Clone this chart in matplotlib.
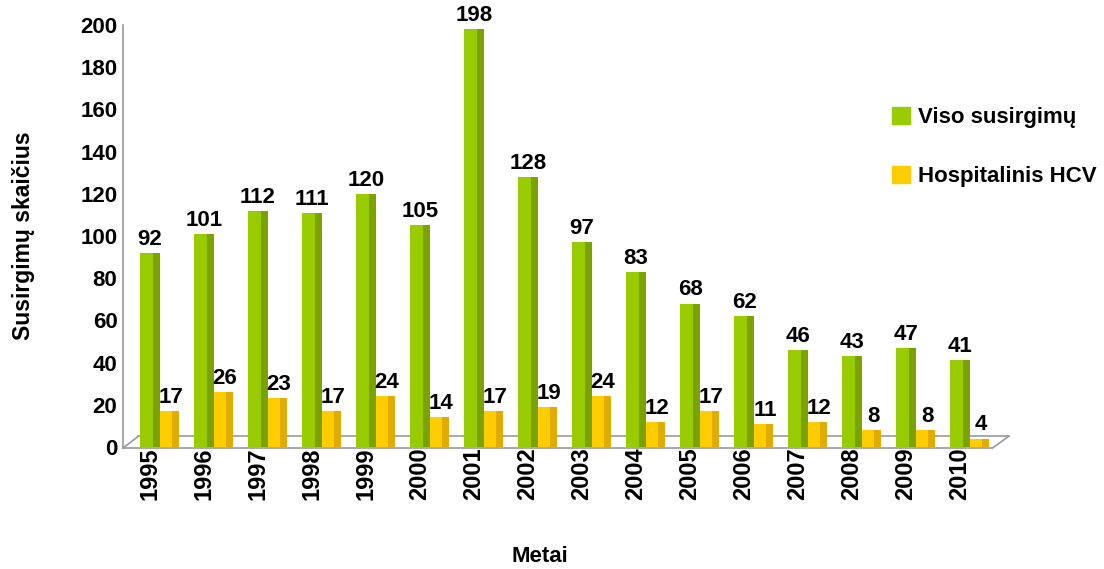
import matplotlib
matplotlib.use("Agg")
import matplotlib.pyplot as plt
import numpy as np
from matplotlib.patches import Patch

years = ["1995", "1996", "1997", "1998", "1999", "2000", "2001", "2002",
         "2003", "2004", "2005", "2006", "2007", "2008", "2009", "2010"]
total = [92, 101, 112, 111, 120, 105, 198, 128, 97, 83, 68, 62, 46, 43, 47, 41]
hosp = [17, 26, 23, 17, 24, 14, 17, 19, 24, 12, 17, 11, 12, 8, 8, 4]
yticks = [0, 20, 40, 60, 80, 100, 120, 140, 160, 180, 200]
series_names = ["Viso susirgimų", "Hospitalinis HCV"]

GREEN = "#99CC00"
GREEN_SIDE = "#7AA300"
YELLOW = "#FFCC00"
YELLOW_SIDE = "#E0AC00"

plt.rcParams['font.family'] = ['Liberation Sans', 'DejaVu Sans']

W, H = 1104, 569
fig = plt.figure(figsize=(W / 100, H / 100), dpi=100)
left_px, right_px, top_px, bot_px = 123, 1008.6, 25, 447
ax = fig.add_axes([left_px / W, 1 - bot_px / H, (right_px - left_px) / W, (bot_px - top_px) / H])

x = np.arange(len(years))
bw = 0.36
gx = x
yx = x + 0.36

# green bars (front + darker side strip)
ax.bar(gx, total, width=bw, color=GREEN, align="center", zorder=3, linewidth=0)
ax.bar(gx + bw * 0.32, total, width=bw * 0.36, color=GREEN_SIDE, align="center", zorder=3, linewidth=0)
# yellow bars
ax.bar(yx, hosp, width=bw, color=YELLOW, align="center", zorder=4, linewidth=0)
ax.bar(yx + bw * 0.32, hosp, width=bw * 0.36, color=YELLOW_SIDE, align="center", zorder=4, linewidth=0)

ax.set_xlim(-0.5, 15.9)
ax.set_ylim(0, 200)

for s in ["top", "right", "left", "bottom"]:
    ax.spines[s].set_visible(False)

# floor (3D-like parallelogram)
fc = "#999999"
ax.plot([-0.5, 15.6], [-0.5, -0.5], color=fc, lw=1.2, zorder=2, clip_on=False)
ax.plot([-0.22, 15.9], [5.0, 5.0], color=fc, lw=1.2, zorder=1, clip_on=False)
ax.plot([-0.5, -0.22], [-0.5, 5.0], color=fc, lw=1.2, zorder=1, clip_on=False)
ax.plot([15.6, 15.9], [-0.5, 5.0], color=fc, lw=1.2, zorder=1, clip_on=False)
ax.plot([-0.5, -0.5], [-0.5, 200], color=fc, lw=1.2, zorder=1, clip_on=False)

ax.set_yticks(yticks)
ax.set_yticklabels([str(v) for v in yticks], fontsize=16, fontweight="bold")
ax.tick_params(axis="y", length=0, pad=4)
ax.set_xticks(gx)
ax.set_xticklabels(years, rotation=90, fontsize=17, fontweight="bold")
ax.tick_params(axis="x", length=0, pad=0)

for xi, v in zip(gx, total):
    ax.text(xi, v + 1.5, str(v), ha="center", va="bottom", fontsize=16, fontweight="bold", zorder=6)
for xi, v in zip(yx, hosp):
    ax.text(xi + 0.03, v + 1.5, str(v), ha="center", va="bottom", fontsize=16, fontweight="bold", zorder=6)

ax.set_ylabel("Susirgimų skaičius", fontsize=16.5, fontweight="bold")
ax.yaxis.set_label_coords((35 - left_px) / (right_px - left_px), 0.5)
fig.text(540 / W, 1 - 557 / H, "Metai", ha="center", va="center", fontsize=16, fontweight="bold")

# legend
handles = [Patch(color=GREEN), Patch(color=YELLOW)]
fig.legend(handles, series_names, loc="upper left", bbox_to_anchor=(872 / W, 1 - 87 / H),
           frameon=False, prop={"size": 16, "weight": "bold"}, handlelength=0.8, handleheight=0.8,
           labelspacing=1.7, handletextpad=0.35)

fig.savefig("out.png", dpi=100)
